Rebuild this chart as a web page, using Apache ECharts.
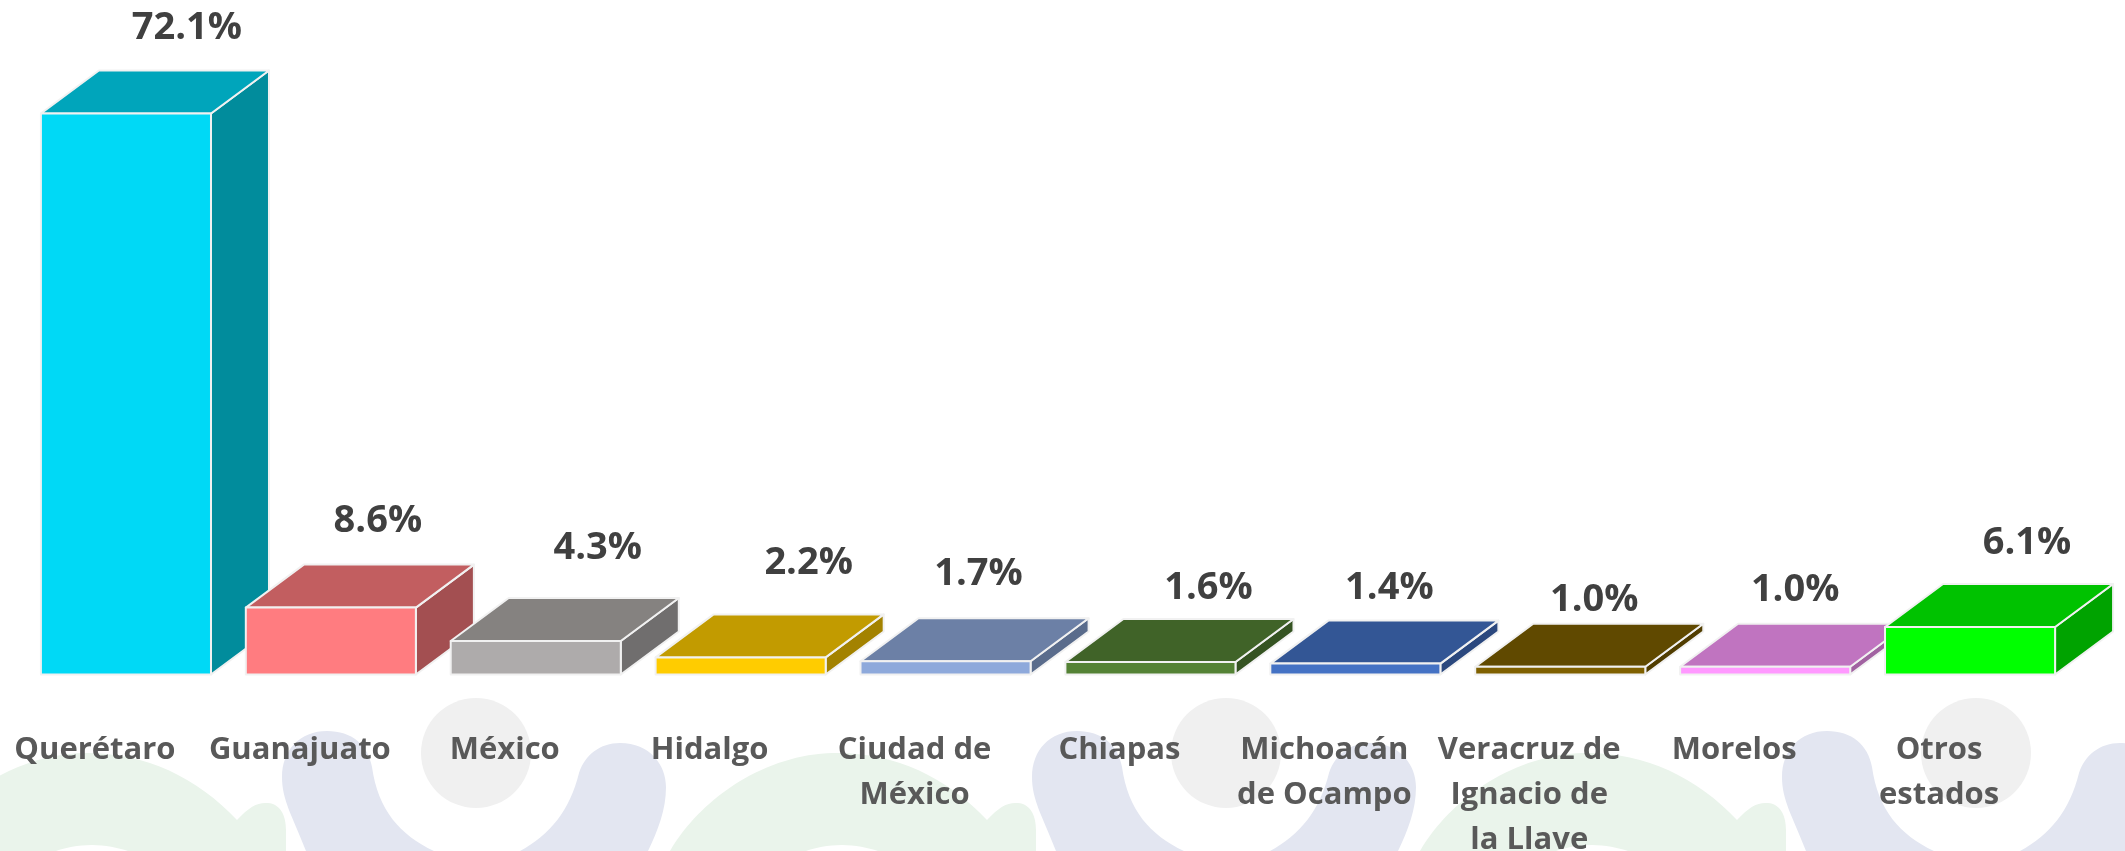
<!DOCTYPE html>
<html>
<head>
<meta charset="utf-8">
<style>html,body{margin:0;padding:0;background:#fff}#c{width:2125px;height:851px}</style>
<script src="https://cdn.jsdelivr.net/npm/echarts@6/dist/echarts.min.js"></script>
</head>
<body>
<div id="c"></div>
<script>
const categories = ['Querétaro','Guanajuato','México','Hidalgo','Ciudad de\nMéxico','Chiapas','Michoacán\nde Ocampo','Veracruz de\nIgnacio de\nla Llave','Morelos','Otros\nestados'];
const shares = [72.1,8.6,4.3,2.2,1.7,1.6,1.4,1.0,1.0,6.1];
const faceColors = ['#00D9F6','#FF7C80','#AEABAB','#FFCC00','#8EA9DB','#548235','#4472C4','#7F6000','#FF99FF','#00FF00'];
const topColors  = ['#00A5BB','#C25E60','#858280','#C29B00','#6C80A6','#406328','#335695','#604900','#C074C0','#00C200'];
const sideColors = ['#018C9C','#A34F51','#706E6E','#A38200','#5A6C8C','#355322','#2B487E','#513D00','#A162A1','#00A300'];
// where each percentage sits, relative to the top-centre of its bar's front face
const labelNudgeX = [61,47,62,68,33,58,34,34,30,57];
const labelNudgeY = [-85,-86,-93,-94,-87,-74,-75,-67,-77,-84];
const watermarkOffsets = [0,750,1500];

const DEPTH_X = 58, DEPTH_Y = 43, BAR_RATIO = 0.83;
const EDGE = {stroke:'#F1F1F1', lineWidth:2};
const FONT = '"Open Sans", Lato, sans-serif';

const GREEN = 'M-80 851C-50 800 10 757 77 753C140 750 195 775 237 820C250 806 258 802 268 803C280 804 286 815 286 830L286 851L128 851C118 848 105 845 92 845C78 845 65 848 56 851Z';
const BLUE = 'M306 851C292 815 282 800 282 777C282 750 300 731 327 731C352 731 368 745 372 767C378 810 400 835 434 851L520 851C550 835 570 810 579 773C585 755 600 743 620 743C650 743 666 765 666 787C666 810 658 830 648 851Z';

function renderWatermark(params, api){
  const off = api.value(0);
  return {type:'group', children:[
    {type:'path', silent:true, shape:{pathData:GREEN, layout:'cover', x:off-80, y:753, width:366, height:98}, style:{fill:'#EAF4EB'}},
    {type:'path', silent:true, shape:{pathData:BLUE, layout:'cover', x:off+282, y:731, width:384, height:120}, style:{fill:'#E3E6F1'}},
    {type:'circle', silent:true, shape:{cx:off+476, cy:753, r:55}, style:{fill:'#F0F0F0'}}
  ]};
}

function renderBar(params, api){
  const i = api.value(0), v = api.value(1);
  const top = api.coord([i, v]);
  const base = api.coord([i, 0]);
  const w = api.size([1,0])[0] * BAR_RATIO;
  const l = top[0] - w/2, r = top[0] + w/2, t = top[1], b = base[1];
  const poly = (pts, fill) => ({type:'polygon', shape:{points:pts}, style:Object.assign({fill, lineJoin:'round'}, EDGE)});
  return {type:'group', children:[
    poly([[r,t],[r+DEPTH_X,t-DEPTH_Y],[r+DEPTH_X,b-DEPTH_Y],[r,b]], sideColors[i]),
    poly([[l,t],[l+DEPTH_X,t-DEPTH_Y],[r+DEPTH_X,t-DEPTH_Y],[r,t]], topColors[i]),
    poly([[l,t],[r,t],[r,b],[l,b]], faceColors[i]),
    {type:'text', z2:10, style:{
      x: top[0]+labelNudgeX[i], y: t+labelNudgeY[i],
      text: v.toFixed(1)+'%', fill:'#404040',
      font:'bold 38px '+FONT, align:'center', verticalAlign:'middle'}}
  ]};
}

const chart = echarts.init(document.getElementById('c'), null, {renderer:'canvas'});
chart.setOption({
  animation:false,
  backgroundColor:'#fff',
  grid:{left:23.5, width:2049, top:52, bottom:176.5, outerBoundsMode:'none'},
  xAxis:{type:'category', data:categories, z:5,
    axisLine:{show:false}, axisTick:{show:false}, splitLine:{show:false},
    axisLabel:{interval:0, margin:53, hideOverlap:false, fontFamily:FONT, fontWeight:'bold', fontSize:31, lineHeight:45, color:'#595959', align:'center', padding:[0,62,0,0]}},
  yAxis:{type:'value', min:0, max:80, show:false},
  series:[
    {type:'custom', coordinateSystem:'none', z:0, silent:true, renderItem:renderWatermark, data:watermarkOffsets.map(o=>[o])},
    {type:'custom', z:2, renderItem:renderBar, encode:{x:0,y:1}, data:shares.map((v,i)=>[i,v]), clip:false}
  ]
});
</script>
</body>
</html>
